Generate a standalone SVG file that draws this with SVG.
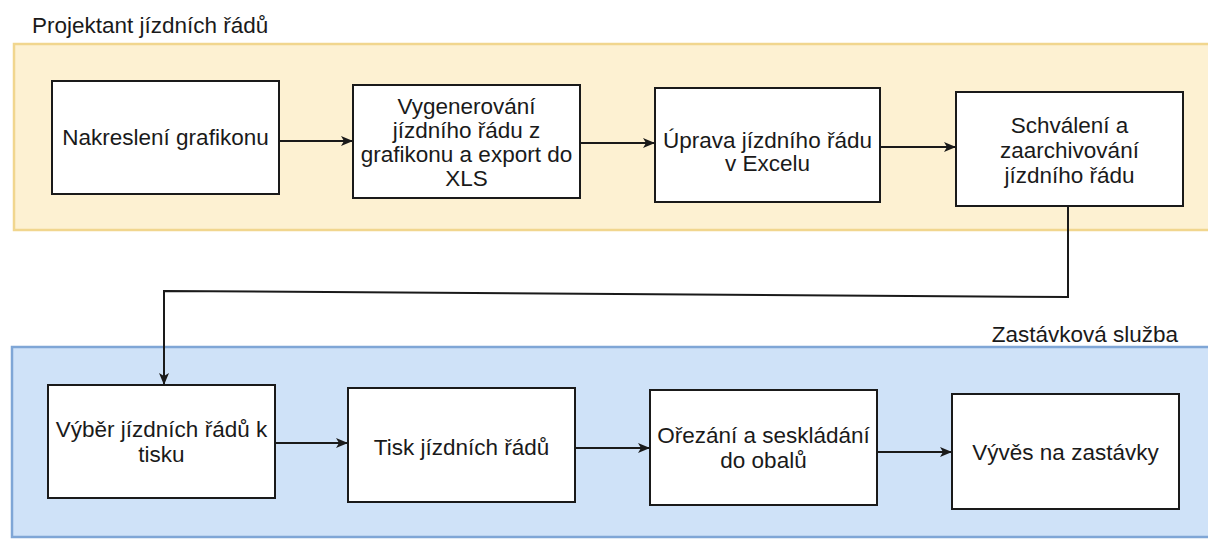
<svg xmlns="http://www.w3.org/2000/svg" width="1208" height="540" viewBox="0 0 1208 540">
  <defs>
    <style>
      text { font-family: "Liberation Sans", Arial, sans-serif; font-size: 22.5px; fill: #1a1a1a; }
      .node rect { fill: #ffffff; stroke: #1a1a1a; stroke-width: 2; }
      .node text { text-anchor: middle; }
      .conn { fill: none; stroke: #1a1a1a; stroke-width: 2; marker-end: url(#arrow); }
      .lane-top { fill: #fdf1d2; stroke: #f1d68e; stroke-width: 2.5; }
      .lane-bottom { fill: #cfe2f8; stroke: #7fa6d6; stroke-width: 2.5; }
    </style>
    <marker id="arrow" viewBox="0 0 12 10" refX="11" refY="5" markerWidth="12" markerHeight="10" markerUnits="userSpaceOnUse" orient="auto">
      <path d="M0,0 L12,5 L0,10 L3,5 Z" fill="#1a1a1a"/>
    </marker>
  </defs>
  <rect width="1208" height="540" fill="#ffffff"/>

  <g id="lane-projektant">
    <rect class="lane-top" x="14" y="44" width="1204" height="186"/>
    <text x="32" y="33">Projektant jízdních řádů</text>
  </g>
  <g id="lane-zastavkova">
    <rect class="lane-bottom" x="12" y="347" width="1206" height="190"/>
    <text x="1178" y="342" text-anchor="end">Zastávková služba</text>
  </g>

  <g id="connectors">
    <line class="conn" x1="279" y1="141" x2="352" y2="141"/>
    <line class="conn" x1="580" y1="143" x2="654" y2="143"/>
    <line class="conn" x1="880" y1="147" x2="955" y2="147"/>
    <polyline class="conn" points="1068,206 1068,297 164,291 164,384"/>
    <line class="conn" x1="275" y1="443" x2="347" y2="443"/>
    <line class="conn" x1="575" y1="448" x2="649" y2="448"/>
    <line class="conn" x1="877" y1="452" x2="951" y2="452"/>
  </g>

  <g id="n1" class="node">
    <rect x="52" y="81" width="227" height="113"/>
    <text x="165.5" y="145">Nakreslení grafikonu</text>
  </g>
  <g id="n2" class="node">
    <rect x="353" y="85" width="227" height="113"/>
    <text x="466.5" y="114">Vygenerování</text>
    <text x="466.5" y="138">jízdního řádu z</text>
    <text x="466.5" y="162">grafikonu a export do</text>
    <text x="466.5" y="186">XLS</text>
  </g>
  <g id="n3" class="node">
    <rect x="655" y="88" width="225" height="114"/>
    <text x="767.5" y="148">Úprava jízdního řádu</text>
    <text x="767.5" y="171">v Excelu</text>
  </g>
  <g id="n4" class="node">
    <rect x="956" y="92" width="227" height="114"/>
    <text x="1069.5" y="133">Schválení a</text>
    <text x="1069.5" y="158">zaarchivování</text>
    <text x="1069.5" y="183">jízdního řádu</text>
  </g>
  <g id="n5" class="node">
    <rect x="48" y="385" width="227" height="113"/>
    <text x="161.5" y="437">Výběr jízdních řádů k</text>
    <text x="161.5" y="462">tisku</text>
  </g>
  <g id="n6" class="node">
    <rect x="348" y="388" width="227" height="114"/>
    <text x="461.5" y="455">Tisk jízdních řádů</text>
  </g>
  <g id="n7" class="node">
    <rect x="650" y="390" width="227" height="115"/>
    <text x="763.5" y="443">Ořezání a seskládání</text>
    <text x="763.5" y="468">do obalů</text>
  </g>
  <g id="n8" class="node">
    <rect x="952" y="394" width="227" height="115"/>
    <text x="1065.5" y="460">Vývěs na zastávky</text>
  </g>
</svg>
